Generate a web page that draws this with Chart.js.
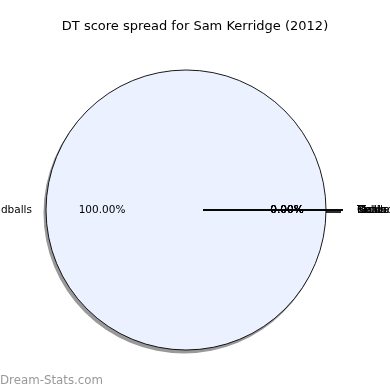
<!DOCTYPE html>
<html>
<head>
<meta charset="utf-8">
<style>
  html, body { margin: 0; padding: 0; background: #fff; }
  #pie { display: block; }
</style>
<script src="https://cdn.jsdelivr.net/npm/chart.js@4/dist/chart.umd.min.js"></script>
</head>
<body>
<canvas id="pie" width="390" height="390"></canvas>
<script>
// Chart data
const categories = ['Handballs', 'Kicks', 'Marks', 'Tackles', 'Goals', 'Behinds'];
const scores = [100, 0, 0, 0, 0, 0];
const chartTitle = 'DT score spread for Sam Kerridge (2012)';

const FONT = "'DejaVu Sans', sans-serif";
const EXPLODE = 17;

function pct(i) {
    const total = scores.reduce((a, b) => a + b, 0);
    return (scores[i] / total * 100).toFixed(2) + '%';
}

// helper: centre of slice i after exploding
function sliceGeom(arc, i) {
    const p = arc.getProps(['x', 'y', 'startAngle', 'endAngle', 'outerRadius'], true);
    const mid = (p.startAngle + p.endAngle) / 2;
    const off = i > 0 ? EXPLODE : 0;
    return {
        cx: p.x + Math.cos(mid) * off,
        cy: p.y + Math.sin(mid) * off,
        r: p.outerRadius,
        mid: mid
    };
}

const piePlugin = {
    id: 'mplPie',
    beforeDatasetsDraw(chart) {
        const ctx = chart.ctx;
        const arcs = chart.getDatasetMeta(0).data;
        ctx.save();
        ctx.fillStyle = 'rgba(0,0,0,0.4)';
        ctx.strokeStyle = 'rgba(0,0,0,0.4)';
        ctx.lineWidth = 1.5;
        arcs.forEach((arc, i) => {
            const g = sliceGeom(arc, i);
            if (scores[i] > 0) {
                ctx.beginPath();
                ctx.arc(g.cx - 2, g.cy + 3, g.r + 0.5, 0, Math.PI * 2);
                ctx.fill();
            } else {
                ctx.beginPath();
                ctx.moveTo(g.cx - 2, g.cy + 2);
                ctx.lineTo(g.cx - 2 + Math.cos(g.mid) * g.r, g.cy + 2 + Math.sin(g.mid) * g.r);
                ctx.stroke();
            }
        });
        ctx.restore();
    },
    afterDatasetsDraw(chart) {
        const ctx = chart.ctx;
        const arcs = chart.getDatasetMeta(0).data;
        ctx.save();
        ctx.strokeStyle = '#000';
        ctx.lineWidth = 1;
        ctx.font = '10.5px ' + FONT;
        ctx.fillStyle = '#000';
        ctx.textBaseline = 'middle';
        arcs.forEach((arc, i) => {
            const g = sliceGeom(arc, i);
            ctx.beginPath();
            if (scores[i] === 0) {
                ctx.moveTo(g.cx, g.cy);
                ctx.lineTo(g.cx + Math.cos(g.mid) * g.r, g.cy + Math.sin(g.mid) * g.r);
            } else {
                ctx.lineWidth = 0.9;
                ctx.arc(g.cx, g.cy, g.r, 0, Math.PI * 2);
            }
            ctx.stroke();
            ctx.lineWidth = 1;
            // category label at 1.1 r
            const lx = g.cx + Math.cos(g.mid) * g.r * 1.1;
            const ly = g.cy + Math.sin(g.mid) * g.r * 1.1;
            ctx.textAlign = Math.cos(g.mid) >= 0 ? 'left' : 'right';
            ctx.fillText(categories[i], lx, ly);
            // percentage at 0.6 r
            ctx.textAlign = 'center';
            ctx.fillText(pct(i), g.cx + Math.cos(g.mid) * g.r * 0.6, g.cy + Math.sin(g.mid) * g.r * 0.6);
        });
        // title
        ctx.font = '13px ' + FONT;
        ctx.fillStyle = '#000';
        ctx.textAlign = 'center';
        ctx.fillText(chartTitle, 195, 26.5);
        // watermark
        ctx.font = '11.8px ' + FONT;
        ctx.fillStyle = 'rgba(128,128,128,0.8)';
        ctx.textAlign = 'left';
        ctx.fillText('Dream-Stats.com', 0, 380.5);
        ctx.restore();
    }
};

new Chart(document.querySelector('#pie'), {
    type: 'pie',
    data: {
        labels: categories,
        datasets: [{
            data: scores,
            backgroundColor: '#EBF1FF',
            borderWidth: 0
        }]
    },
    options: {
        responsive: false,
        devicePixelRatio: 1,
        animation: false,
        rotation: 90,
        layout: { padding: { left: 46, right: 64, top: 70, bottom: 40 } },
        plugins: {
            legend: { display: false },
            tooltip: { enabled: false },
            title: { display: false }
        }
    },
    plugins: [piePlugin]
});
</script>
</body>
</html>
